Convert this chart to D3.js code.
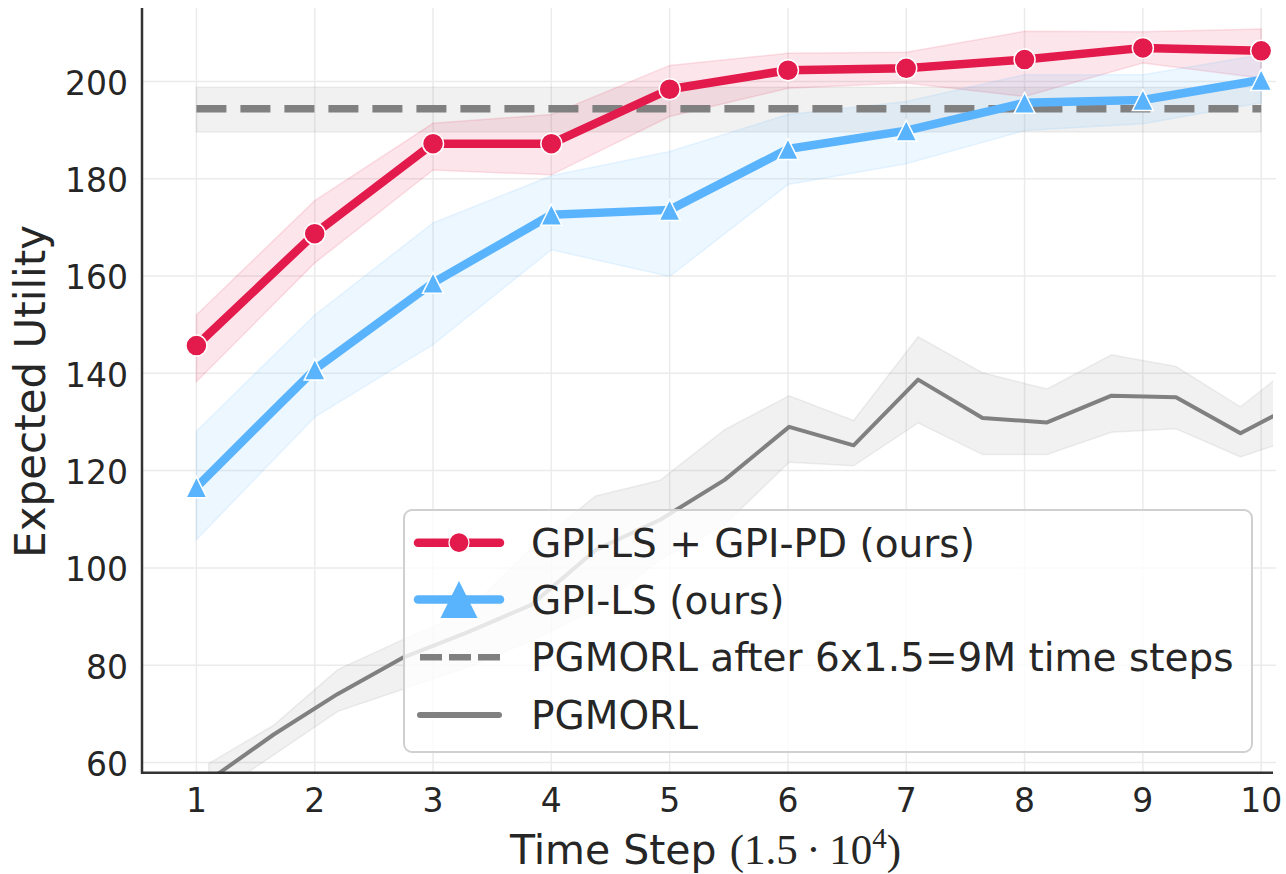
<!DOCTYPE html>
<html>
<head>
<meta charset="utf-8">
<script src="https://cdn.jsdelivr.net/npm/d3@7"></script>
<style>
  body { margin: 0; background: #fff; }
  svg text { font-family: "DejaVu Sans", sans-serif; fill: #262626; }
</style>
</head>
<body>
<svg id="chart" width="1286" height="874"></svg>
<script>
// x positions (time step, units of 1.5e4)
var steps = [1, 2, 3, 4, 5, 6, 7, 8, 9, 10];

// GPI-LS + GPI-PD (ours)
var gpiPd   = [145.7, 168.7, 187.2, 187.2, 198.4, 202.3, 202.7, 204.5, 206.9, 206.3];
var gpiPdLo = [138.3, 162.7, 181.8, 180.8, 192.8, 198.6, 199.7, 196.9, 203.8, 200.7];
var gpiPdHi = [152.0, 175.5, 191.4, 193.2, 203.3, 205.8, 206.0, 210.3, 210.2, 210.8];

// GPI-LS (ours)
var gpiLs   = [116.6, 140.8, 158.6, 172.6, 173.6, 186.1, 189.9, 195.6, 196.2, 200.3];
var gpiLsLo = [105.8, 131.0, 145.9, 165.4, 159.9, 178.8, 183.1, 189.9, 191.3, 195.6];
var gpiLsHi = [128.1, 152.0, 170.9, 180.6, 185.6, 193.2, 195.9, 201.4, 201.4, 205.5];

// PGMORL after 9M steps (constant reference)
var pgFinalX  = [1, 10];
var pgFinal   = [194.4, 194.4];
var pgFinalLo = [189.6, 189.6];
var pgFinalHi = [198.8, 198.8];

// PGMORL learning curve
var pgX  = [1.104, 1.65, 2.195, 2.74, 3.285, 3.83, 4.375, 4.92, 5.465, 6.01, 6.555, 7.1, 7.645, 8.19, 8.735, 9.28, 9.825, 10.37];
var pg   = [56.3, 65.7, 74.1, 81.5, 86.7, 92.4, 103.7, 109.9, 118.1, 129.0, 125.2, 138.7, 130.8, 129.9, 135.4, 135.1, 127.7, 134.6];
var pgLo = [52.5, 61.5, 70.5, 75.0, 79.5, 85.0, 91.5, 101.7, 108.9, 121.7, 121.0, 129.8, 123.3, 123.3, 127.9, 128.6, 122.8, 127.3];
var pgHi = [59.8, 67.6, 79.1, 85.2, 91.0, 104.1, 114.8, 118.0, 128.4, 135.4, 130.3, 147.5, 140.1, 136.8, 143.8, 141.4, 133.1, 143.6];

var yTicks = [60, 80, 100, 120, 140, 160, 180, 200];

var labels = ["GPI-LS + GPI-PD (ours)", "GPI-LS (ours)", "PGMORL after 6x1.5=9M time steps", "PGMORL"];

var red = "#e31a4c", blue = "#5ab4fd", gray = "#808080";

// plot box in pixels (not named top/left: those are window globals)
var pL = 142, pR = 1273, pT = 8, pB = 772.7;

var svg = d3.select("#chart");

var x = d3.scaleLinear().domain([0.54, 10.1]).range([pL, pR]);
var y = d3.scaleLinear().domain([57.9, 215.1]).range([pB, pT]);

svg.append("defs").append("clipPath").attr("id", "plot")
  .append("rect").attr("x", pL).attr("y", pT)
  .attr("width", pR - pL).attr("height", pB - pT);

// grid
svg.append("g").selectAll("line").data(steps).enter().append("line")
  .attr("x1", d => x(d)).attr("x2", d => x(d))
  .attr("y1", pT).attr("y2", pB)
  .attr("stroke", "#ebebeb").attr("stroke-width", 1.5);
svg.append("g").selectAll("line").data(yTicks).enter().append("line")
  .attr("x1", pL).attr("x2", pR + 3)
  .attr("y1", d => y(d)).attr("y2", d => y(d))
  .attr("stroke", "#ebebeb").attr("stroke-width", 1.5);

var plot = svg.append("g").attr("clip-path", "url(#plot)");

function zip(xs, a) { return xs.map((v, i) => [v, a[i]]); }

function band(xs, lo, hi, color) {
  var area = d3.area().x(d => x(d[0])).y0(d => y(d[1])).y1(d => y(d[2]));
  plot.append("path")
    .datum(xs.map((v, i) => [v, lo[i], hi[i]]))
    .attr("d", area)
    .attr("fill", color).attr("fill-opacity", 0.11)
    .attr("stroke", color).attr("stroke-opacity", 0.12).attr("stroke-width", 1.5);
}

var line = d3.line().x(d => x(d[0])).y(d => y(d[1]));

band(pgX, pgLo, pgHi, gray);
band(pgFinalX, pgFinalLo, pgFinalHi, gray);
band(steps, gpiPdLo, gpiPdHi, red);
band(steps, gpiLsLo, gpiLsHi, blue);

plot.append("path").datum(zip(pgFinalX, pgFinal)).attr("d", line)
  .attr("fill", "none").attr("stroke", gray).attr("stroke-width", 7.5)
  .attr("stroke-dasharray", "30,14");

plot.append("path").datum(zip(pgX, pg)).attr("d", line)
  .attr("fill", "none").attr("stroke", gray).attr("stroke-width", 4)
  .attr("stroke-linejoin", "round");

function tri(s) { return "M0," + (-s) + "L" + s + "," + s + "L" + (-s) + "," + s + "Z"; }

plot.append("path").datum(zip(steps, gpiPd)).attr("d", line)
  .attr("fill", "none").attr("stroke", red).attr("stroke-width", 8.5)
  .attr("stroke-linejoin", "round");
plot.append("g").selectAll("circle").data(zip(steps, gpiPd)).enter().append("circle")
  .attr("cx", d => x(d[0])).attr("cy", d => y(d[1])).attr("r", 10.5)
  .attr("fill", red).attr("stroke", "#fff").attr("stroke-width", 1.5);

plot.append("path").datum(zip(steps, gpiLs)).attr("d", line)
  .attr("fill", "none").attr("stroke", blue).attr("stroke-width", 8.5)
  .attr("stroke-linejoin", "round");
plot.append("g").selectAll("path").data(zip(steps, gpiLs)).enter().append("path")
  .attr("transform", d => "translate(" + x(d[0]) + "," + y(d[1]) + ")")
  .attr("d", tri(10.5))
  .attr("fill", blue).attr("stroke", "#fff").attr("stroke-width", 1.5);

// spines
svg.append("line").attr("x1", pL).attr("x2", pL).attr("y1", pT).attr("y2", pB + 1)
  .attr("stroke", "#333").attr("stroke-width", 2.5);
svg.append("line").attr("x1", pL - 1).attr("x2", pR).attr("y1", pB).attr("y2", pB)
  .attr("stroke", "#333").attr("stroke-width", 2.5);

// tick labels
svg.append("g").selectAll("text").data(steps).enter().append("text")
  .attr("x", d => x(d)).attr("y", 800).attr("dy", "0.36em")
  .attr("text-anchor", "middle").style("font-size", "33px")
  .text(d => d);
svg.append("g").selectAll("text").data(yTicks).enter().append("text")
  .attr("x", 128).attr("y", d => y(d) + 1.5).attr("dy", "0.36em")
  .attr("text-anchor", "end").style("font-size", "33px")
  .text(d => d);

// axis labels
var xl = svg.append("text").attr("x", (pL + pR) / 2 - 2).attr("y", 849).attr("dy", "0.36em")
  .attr("text-anchor", "middle").style("font-size", "41px");
xl.append("tspan").text("Time Step ");
xl.append("tspan").style("font-family", "'Liberation Serif', serif").style("font-size", "43px")
  .text("(1.5\u202F\u00B7\u202F10");
xl.append("tspan").style("font-family", "'Liberation Serif', serif").style("font-size", "29px")
  .attr("dy", "-0.55em").text("4");
xl.append("tspan").style("font-family", "'Liberation Serif', serif").style("font-size", "43px")
  .attr("dy", "0.37em").text(")");

svg.append("text")
  .attr("transform", "translate(30," + ((pT + pB) / 2 + 1) + ") rotate(-90)")
  .attr("dy", "0.36em").attr("text-anchor", "middle").style("font-size", "42px")
  .text("Expected Utility");

// legend
var lg = svg.append("g");
lg.append("rect").attr("x", 404).attr("y", 510).attr("width", 848).attr("height", 242)
  .attr("rx", 8).attr("fill", "#fff").attr("fill-opacity", 0.8)
  .attr("stroke", "#d0d0d0").attr("stroke-width", 2);

var rows = [542.7, 599.5, 657.3, 715];
var hx0 = 418, hx1 = 500, hm = 459;

lg.append("line").attr("x1", hx0).attr("x2", hx1).attr("y1", rows[0]).attr("y2", rows[0])
  .attr("stroke", red).attr("stroke-width", 8.5).attr("stroke-linecap", "round");
lg.append("circle").attr("cx", hm).attr("cy", rows[0]).attr("r", 10)
  .attr("fill", red).attr("stroke", "#fff").attr("stroke-width", 1.2);

lg.append("line").attr("x1", hx0).attr("x2", hx1).attr("y1", rows[1]).attr("y2", rows[1])
  .attr("stroke", blue).attr("stroke-width", 8.5).attr("stroke-linecap", "round");
lg.append("path").attr("transform", "translate(" + hm + "," + rows[1] + ")").attr("d", tri(18.5))
  .attr("fill", blue);

lg.append("line").attr("x1", 420).attr("x2", 500).attr("y1", rows[2]).attr("y2", rows[2])
  .attr("stroke", gray).attr("stroke-width", 6.5).attr("stroke-dasharray", "22,7");
lg.append("line").attr("x1", 420).attr("x2", 499).attr("y1", rows[3]).attr("y2", rows[3])
  .attr("stroke", gray).attr("stroke-width", 6).attr("stroke-linecap", "round");

lg.selectAll("text.lab").data(labels).enter().append("text").attr("class", "lab")
  .attr("x", 531).attr("y", (d, i) => rows[i]).attr("dy", "0.36em")
  .style("font-size", "39px").text(d => d);
</script>
</body>
</html>
